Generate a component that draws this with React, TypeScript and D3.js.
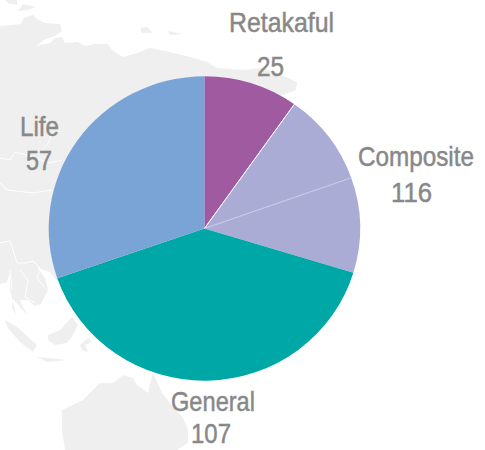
import React from "react";
import * as d3 from "d3";

// slice shares (they do not follow the printed numbers)
const sliceNames = ["Retakaful", "Composite A", "Composite B", "General", "Life"];
const sliceShares = [9.8, 9.8, 10.1, 40, 30.3];
const sliceColors = ["#9f5aa0", "#abacd6", "#abacd6", "#00a7a7", "#7aa4d6"];
const sliceEdges = ["none", "#ffffff", "#c8c9e6", "none", "none"];

const labelNames = ["Retakaful", "Composite", "General", "Life"];
const labelValues = ["25", "116", "107", "57"];

// backdrop map, traced roughly
const land = [
  "M0,26L12,25L21,24L24,18L33,15L37,19L45,23L60,24L62,31L55,36L44,40L36,46L50,43L55,38L62,37L65,43L78,42L85,46L95,44L108,44L112,50L123,57L137,53L150,48L170,52L190,57L207,62L217,68L243,70L262,68L277,73L297,82L296,90L280,96L204,229L57,281L50,272L43,270L37,267L45,278L48,290L41,304L35,306L28,300L20,300L27,315L13,299L12,308L16,314L10,290L10,273L7,282L0,284Z",
  "M5,0L17,0L17,5L8,3Z",
  "M18,11L23,4L35,7L28,10Z",
  "M140,28L147,27L153,33L142,33Z",
  "M168,31L182,34L170,35Z",
  "M5,320L17,327L37,345L33,352L20,342L8,328Z",
  "M48,335L60,330L72,317L78,325L73,335L67,343L55,345L48,340Z",
  "M80,345L88,338L92,342L85,345L88,352L82,350Z",
  "M37,357L50,358L67,360L47,362Z",
  "M62,410L83,400L100,383L113,383L123,375L133,378L137,385L148,393L153,373L162,393L173,407L183,418L188,430L188,443L177,450L65,450L62,430Z",
];
const borders = [
  "M0,158L10,160L15,152L27,155L50,163L62,160",
  "M0,183L7,190L33,193L52,190",
  "M42,150Q50,143 51,135",
  "M0,243L10,241L14,253L17,263L25,263L33,261L40,268L37,278L45,288",
  "M20,270L28,280L25,297L35,303",
  "M10,270L12,290",
];

const cx = 204.4;
const cy = 228.5;
const radius = 152.2;
const squeeze = 0.87;

const labelStyle = [
  [{ x: 229, y: 32, w: 105 }, { x: 257, y: 76, w: 27 }],
  [{ x: 358, y: 166, w: 116 }, { x: 391, y: 202, w: 41 }],
  [{ x: 171, y: 411, w: 84 }, { x: 191, y: 443, w: 40 }],
  [{ x: 20, y: 136, w: 39 }, { x: 26, y: 169.5, w: 26 }],
];

function Label({ p, text }: { p: { x: number; y: number; w: number }; text: string }) {
  return (
    <text
      transform={`translate(${p.x},${p.y}) scale(${squeeze},1)`}
      textLength={p.w / squeeze}
      lengthAdjust="spacingAndGlyphs"
    >
      {text}
    </text>
  );
}

export default function App() {
  const pie = d3.pie<number>().sort(null).value((d) => d);
  const arc = d3.arc<d3.PieArcDatum<number>>().innerRadius(0).outerRadius(radius);
  const slices = pie(sliceShares);

  return (
    <svg width={485} height={450} style={{ position: "fixed", left: 0, top: 0 }}>
      <rect width={485} height={450} fill="#fff" />
      {land.map((d, i) => (
        <path key={i} d={d} fill="#efefef" />
      ))}
      {borders.map((d, i) => (
        <path key={i} d={d} fill="none" stroke="#fff" strokeWidth={1} />
      ))}
      <g transform={`translate(${cx},${cy}) scale(1.023,1)`}>
        {slices.map((s, i) => (
          <path key={sliceNames[i]} d={arc(s) ?? ""} fill={sliceColors[i]} />
        ))}
        {slices.map((s, i) => (
          <path key={sliceNames[i]} d={arc({ ...s, endAngle: s.startAngle }) ?? ""} fill="none" stroke={sliceEdges[i]} strokeWidth={0.7} />
        ))}
      </g>
      <g
        fontFamily="'Liberation Sans', Arial, sans-serif"
        fontSize={28.5}
        fill="#888888"
        stroke="#888888"
        strokeWidth={0.5}
      >
        {labelNames.map((name, i) => (
          <g key={name}>
            <Label p={labelStyle[i][0]} text={name} />
            <Label p={labelStyle[i][1]} text={labelValues[i]} />
          </g>
        ))}
      </g>
    </svg>
  );
}
